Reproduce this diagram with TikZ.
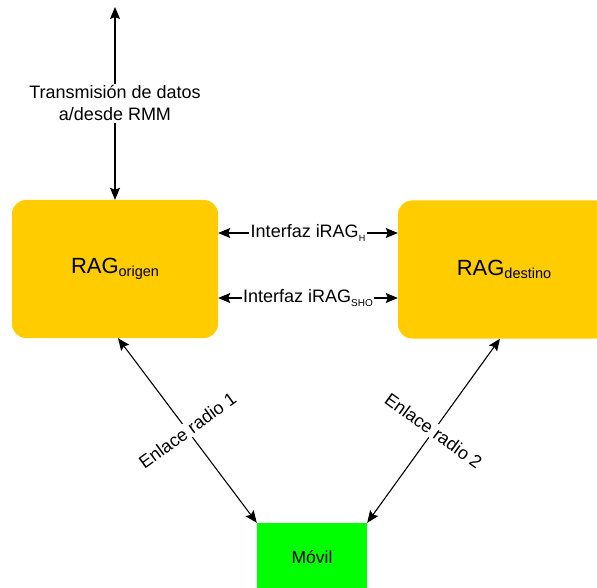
\documentclass[tikz,border=0pt]{standalone}
\usepackage{fontspec}
\setmainfont{Liberation Sans}
\usetikzlibrary{arrows.meta}
\definecolor{ragyellow}{RGB}{255,204,0}
\definecolor{movgreen}{RGB}{0,255,0}
\newcommand{\lowsub}[3]{\raisebox{#1}{\fontsize{#2}{#2}\selectfont #3}}
\tikzset{
  ragbox/.style={fill=ragyellow, rounded corners=14pt, minimum height=138pt, inner sep=0pt,
    font=\fontsize{22}{24}\selectfont},
  movbox/.style={fill=movgreen, minimum width=110pt, minimum height=68pt, inner sep=0pt,
    font=\fontsize{17.5}{20}\selectfont},
  link/.style={line width=1.1pt, {Stealth[length=12pt,width=10pt,inset=2pt]}-{Stealth[length=12pt,width=10pt,inset=2pt]}},
  lbl/.style={fill=white, inner sep=1.5pt, font=\fontsize{18}{22}\selectfont}
}
\begin{document}
\begin{tikzpicture}[x=1pt, y=-1pt]
  \useasboundingbox (0,0) rectangle (597,588);

  % gateways and mobile terminal
  \node[ragbox, minimum width=206pt] (orig) at (115,269) {RAG\lowsub{-3.5pt}{14.5}{origen}};
  \node[ragbox, minimum width=212pt] (dest) at (504,269.5) {RAG\lowsub{-3.5pt}{14.5}{destino}};
  \node[movbox] (movil) at (312,557) {Móvil};
  \coordinate (rmm) at (115,7);

  % link towards the RMM
  \draw[link] (rmm) -- (orig.north)
    node[lbl, midway, align=center] {Transmisión de datos\\a/desde RMM};

  % inter-gateway interfaces (yshift acts on the page, upwards positive)
  \draw[link] ([yshift=36pt]orig.east) -- ([yshift=36pt]orig.east -| dest.west)
    node[lbl, midway] {Interfaz iRAG\lowsub{-4pt}{9}{H}};
  \draw[link] ([yshift=-29pt]orig.east) -- ([yshift=-29pt]orig.east -| dest.west)
    node[lbl, midway] {Interfaz iRAG\lowsub{-4pt}{10}{SHO}};

  % radio links
  \draw[link] ([xshift=3pt]orig.south) -- (movil.north west)
    node[lbl, midway, rotate=36] {Enlace radio 1};
  \draw[link] ([xshift=-4pt]dest.south) -- (movil.north east)
    node[lbl, midway, rotate=-36] {Enlace radio 2};
\end{tikzpicture}
\end{document}
